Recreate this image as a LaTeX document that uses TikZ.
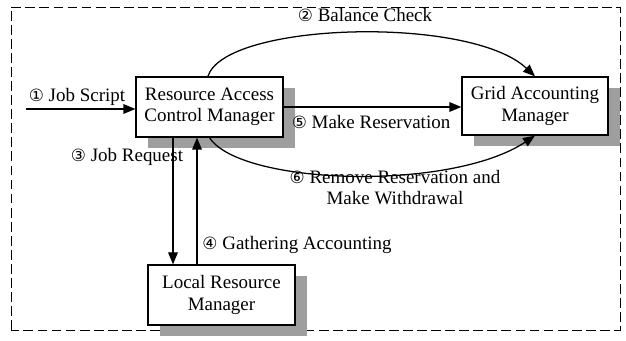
\documentclass[tikz,border=0pt]{standalone}
\usepackage{fontspec}
\setmainfont{Liberation Serif}
\newfontfamily\numfont{DejaVu Sans}
\usetikzlibrary{positioning,arrows.meta,shadows}
% circled step numbers
\newcommand{\circnum}[1]{{\numfont\fontsize{12}{14}\selectfont #1}}

\begin{document}
\begin{tikzpicture}[x=0.25mm, y=0.25mm,
    box/.style={draw, line width=0.9pt, fill=white, align=center,
        minimum width=36.75mm, minimum height=15mm, inner sep=2pt,
        font=\fontsize{13.5}{15}\selectfont,
        general shadow={fill=black!38, shadow xshift=3mm, shadow yshift=-2.7mm}},
    arr/.style={-{Triangle[length=3mm, width=2.4mm]}, line width=0.9pt},
    lab/.style={font=\fontsize{13.5}{15}\selectfont, align=center, inner sep=0pt}]

\useasboundingbox (0,0) rectangle (626,340);
\draw[line width=0.6pt, dash pattern=on 7pt off 3pt] (11,10) rectangle (620,333);

% --- managers
\node[box] (racm) at (209.5,233) {Resource Access\\Control Manager};
\node[box, minimum width=36.5mm, minimum height=14.5mm] (gam) at (535,234) {Grid Accounting\\Manager};
\node[box] (lrm) at (221.5,45) {Local Resource\\Manager};

% --- incoming job
\coordinate (in) at (26,231);
\draw[arr] (in) -- (in -| racm.west);
\node[lab] (jobscript) at (77,243) {\circnum{①} Job Script};

% --- to the accounting manager
\draw[arr] ([xshift=-0.4mm]racm.north) .. controls (225,318) and (470,325) .. (gam.north);
\node[lab] (balance) at (365,325) {\circnum{②} Balance Check};

\draw[arr] (racm.east) -- (racm.east -| gam.west);
\node[lab] (reserve) at (371,218) {\circnum{⑤} Make Reservation};

\draw[arr] (racm.south) .. controls (240,155) and (450,148) .. (gam.south);
\node[lab] (withdraw) at (395,152) {\circnum{⑥} Remove Reservation and\\Make Withdrawal};

% --- to and from the local manager
\coordinate (req) at (173,0);
\coordinate (gath) at (197,0);
\draw[arr] (racm.south -| req) -- (lrm.north -| req);
\draw[arr] (lrm.north -| gath) -- (racm.south -| gath);
\node[lab] (request) at (127,183) {\circnum{③} Job Request};
\node[lab] (gathering) at (297,95) {\circnum{④} Gathering Accounting};
\end{tikzpicture}
\end{document}
